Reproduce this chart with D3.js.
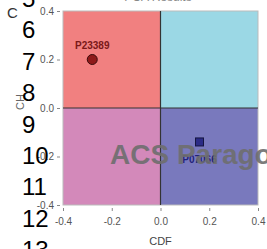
<!DOCTYPE html>
<html>
<head>
<meta charset="utf-8">
<script src="https://cdn.jsdelivr.net/npm/d3@7"></script>
<style>
  body { margin: 0; background: #fff; }
  svg { display: block; font-family: "Liberation Sans", Arial, sans-serif; }
</style>
</head>
<body>
<div id="chart"></div>
<script>

// data
var pointNames = ['P23389', 'P07066']
var pointX = [-0.28, 0.16]
var pointY = [0.2, -0.14]
var pointShapes = ['circle', 'square']
var tickValues = [-0.4, -0.2, 0.0, 0.2, 0.4]
var lineNums = [5, 6, 7, 8, 9, 10, 11, 12, 13]

function create_chart() {

  var width = 267
  var height = 249

  var svg = d3.select('div#chart')
    .append('svg')
    .attr('width', width)
    .attr('height', height)

  var xScale = d3.scaleLinear().domain([-0.4, 0.4]).range([63, 258])
  var yScale = d3.scaleLinear().domain([-0.4, 0.4]).range([205, 11])

  var fmt = function(d) { return d.toFixed(1) }

  // quadrants
  var quads = [
    {x0: -0.4, x1: 0, y0: 0, y1: 0.4, c: '#f18080'},
    {x0: 0, x1: 0.4, y0: 0, y1: 0.4, c: '#9bd8e5'},
    {x0: -0.4, x1: 0, y0: -0.4, y1: 0, c: '#d389ba'},
    {x0: 0, x1: 0.4, y0: -0.4, y1: 0, c: '#7979bd'}
  ]
  svg.selectAll('rect.q')
    .data(quads)
    .enter().append('rect')
    .attr('class', 'q')
    .attr('x', function(d) { return xScale(d.x0) })
    .attr('y', function(d) { return yScale(d.y1) })
    .attr('width', function(d) { return xScale(d.x1) - xScale(d.x0) })
    .attr('height', function(d) { return yScale(d.y0) - yScale(d.y1) })
    .attr('fill', function(d) { return d.c })

  svg.append('rect')
    .attr('x', xScale(-0.4))
    .attr('y', yScale(0.4))
    .attr('width', xScale(0.4) - xScale(-0.4))
    .attr('height', yScale(-0.4) - yScale(0.4))
    .attr('fill', 'none')
    .attr('stroke', '#bbb')
    .attr('stroke-width', 1)

  // zero lines
  svg.append('line')
    .attr('x1', xScale(0)).attr('x2', xScale(0))
    .attr('y1', yScale(0.4)).attr('y2', yScale(-0.4))
    .attr('stroke', '#333').attr('stroke-width', 1.2)
  svg.append('line')
    .attr('x1', xScale(-0.4)).attr('x2', xScale(0.4))
    .attr('y1', yScale(0)).attr('y2', yScale(0))
    .attr('stroke', '#333').attr('stroke-width', 1.2)

  // axes
  var xAxis = svg.append('g')
    .attr('transform', 'translate(0,' + (yScale(-0.4) + 3) + ')')
    .call(d3.axisBottom(xScale).tickValues(tickValues).tickFormat(fmt).tickSize(3).tickSizeOuter(0))
  var yAxis = svg.append('g')
    .attr('transform', 'translate(' + (xScale(-0.4) - 3) + ',0)')
    .call(d3.axisLeft(yScale).tickValues(tickValues).tickFormat(fmt).tickSize(3).tickSizeOuter(0))

  ;[xAxis, yAxis].forEach(function(a) {
    a.select('.domain').remove()
    a.selectAll('line').attr('stroke', '#888')
    a.selectAll('text')
      .attr('fill', '#555')
      .style('font-size', '10px')
      .style('font-family', '"Liberation Sans", Arial, sans-serif')
  })
  xAxis.selectAll('text').attr('dy', '1.05em')

  // axis titles
  svg.append('text')
    .attr('x', xScale(0))
    .attr('y', 245)
    .attr('text-anchor', 'middle')
    .attr('fill', '#444')
    .style('font-size', '11px')
    .text('CDF')

  svg.append('text')
    .attr('transform', 'translate(24,102) rotate(-90)')
    .attr('text-anchor', 'middle')
    .attr('fill', '#666')
    .style('font-size', '11px')
    .text('CH')

  // title (cut off at top)
  svg.append('text')
    .attr('x', 158)
    .attr('y', 1)
    .attr('text-anchor', 'middle')
    .attr('fill', '#888')
    .style('font-size', '12px')
    .text('PCA Results')

  // points
  var pts = pointNames.map(function(n, i) {
    return {name: n, x: pointX[i], y: pointY[i], shape: pointShapes[i]}
  })

  pts.forEach(function(p) {
    var cx = xScale(p.x)
    var cy = yScale(p.y)
    if (p.shape == 'circle') {
      svg.append('circle')
        .attr('cx', cx).attr('cy', cy).attr('r', 5)
        .attr('fill', '#8e1a1a').attr('stroke', '#3a0a0a').attr('stroke-width', 1)
      svg.append('text')
        .attr('x', cx).attr('y', cy - 11)
        .attr('text-anchor', 'middle')
        .attr('fill', '#7a1818')
        .style('font-size', '10px').style('font-weight', 'bold')
        .text(p.name)
    } else {
      svg.append('rect')
        .attr('x', cx - 4).attr('y', cy - 4).attr('width', 8).attr('height', 8)
        .attr('fill', '#2b2b86').attr('stroke', '#151540').attr('stroke-width', 1)
      svg.append('text')
        .attr('x', cx).attr('y', cy + 21)
        .attr('text-anchor', 'middle')
        .attr('fill', '#22227a')
        .style('font-size', '10px').style('font-weight', 'bold')
        .text(p.name)
    }
  })

  // watermark
  svg.append('text')
    .attr('x', 110)
    .attr('y', 164)
    .attr('fill', '#6e6e6e')
    .attr('opacity', 0.9)
    .style('font-size', '28px')
    .style('font-weight', 'bold')
    .text('ACS Paragon')

  // stray label and line numbers
  svg.append('text')
    .attr('x', 7)
    .attr('y', 18)
    .attr('fill', '#333')
    .style('font-size', '15px')
    .text('C')

  var lineY = d3.scaleLinear().domain([5, 13]).range([7, 258])
  svg.selectAll('text.ln')
    .data(lineNums)
    .enter().append('text')
    .attr('class', 'ln')
    .attr('x', 22)
    .attr('y', function(d) { return lineY(d) })
    .attr('fill', '#000')
    .style('font-size', '24px')
    .text(function(d) { return d })
}

create_chart()
</script>
</body>
</html>
